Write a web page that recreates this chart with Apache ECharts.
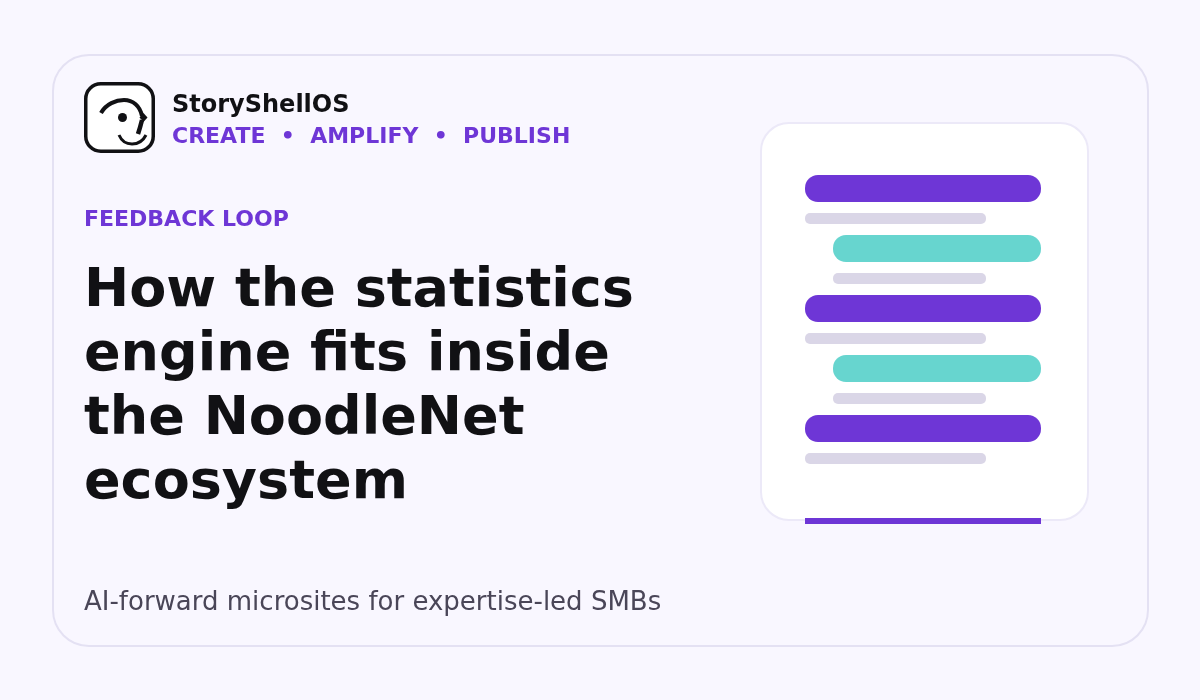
<!DOCTYPE html>
<html>
<head>
<meta charset="utf-8">
<title>How the statistics engine fits inside the NoodleNet ecosystem</title>
<style>
    html, body { margin: 0; padding: 0; background: #f9f7ff; }
    #main { width: 1200px; height: 700px; }
</style>
<script src="https://cdn.jsdelivr.net/npm/echarts@6/dist/echarts.min.js"></script>
</head>
<body>
<div id="main"></div>
<script>
var brandName = 'StoryShellOS';
var brandTagline = 'CREATE  \u2022  AMPLIFY  \u2022  PUBLISH';
var eyebrow = 'FEEDBACK LOOP';
var titleLines = ['How the statistics', 'engine fits inside', 'the NoodleNet', 'ecosystem'];
var footerText = 'AI-forward microsites for expertise-led SMBs';

// rows of the diagram, top to bottom
var rowNames = ['r1', 'r1 note', 'r2', 'r2 note', 'r3', 'r3 note', 'r4', 'r4 note', 'r5', 'r5 note', 'spacer', 'base'];
var rowKinds = ['primary', 'note', 'accent', 'note', 'primary', 'note', 'accent', 'note', 'primary', 'note', '', 'base'];
var rowStarts = [0, 0, 28, 28, 0, 0, 28, 28, 0, 0, 0, 0];
var rowEnds = [236, 181, 236, 181, 236, 181, 236, 181, 236, 181, 0, 236];

(function () {
    'use strict';

    var purple = '#6e36d6';
    var ink = '#111114';
    var kindStyle = {
        primary: { color: purple, height: 27, radius: 13, shift: 0 },
        accent: { color: '#67d5cf', height: 27, radius: 13, shift: 0 },
        note: { color: '#dad6e7', height: 11, radius: 5, shift: 0 },
        base: { color: purple, height: 6, radius: 0, shift: 2.5 }
    };

    var myChart = echarts.init(document.getElementById('main'));

    function label(x, y, text, size, weight, color) {
        return {
            type: 'text',
            z: 1,
            style: {
                x: x,
                y: y,
                text: text,
                fill: color,
                font: weight + ' ' + size + 'px "DejaVu Sans"',
                textVerticalAlign: 'middle'
            }
        };
    }

    function curve(x1, y1, cpx1, cpy1, cpx2, cpy2, x2, y2, width) {
        return {
            type: 'bezierCurve',
            z: 1,
            shape: { x1: x1, y1: y1, cpx1: cpx1, cpy1: cpy1, cpx2: cpx2, cpy2: cpy2, x2: x2, y2: y2 },
            style: { fill: 'none', stroke: ink, lineWidth: width }
        };
    }

    var graphics = [
        {
            type: 'rect',
            z: 0,
            shape: { x: 53, y: 55, width: 1095, height: 591, r: 36 },
            style: { fill: '#f9f7ff', stroke: '#e4e1f3', lineWidth: 2 }
        },
        {
            type: 'rect',
            z: 0,
            shape: { x: 761, y: 123, width: 327, height: 397, r: 28 },
            style: { fill: '#ffffff', stroke: '#ece9f8', lineWidth: 2 }
        },
        // logo
        {
            type: 'rect',
            z: 1,
            shape: { x: 85.75, y: 83.75, width: 67.5, height: 67.5, r: 15 },
            style: { fill: '#ffffff', stroke: ink, lineWidth: 3.5 }
        },
        {
            type: 'circle',
            z: 1,
            shape: { cx: 122.5, cy: 117.5, r: 4.5 },
            style: { fill: ink }
        },
        curve(101, 113, 106, 104, 116, 100, 124, 100, 4),
        curve(124, 100, 133, 100, 140, 106, 142, 116, 4),
        curve(142, 120, 141, 124, 140, 128, 138, 134, 4.5),
        {
            type: 'polygon',
            z: 1,
            shape: { points: [[143.5, 113], [147.5, 117.5], [143.5, 122], [139.5, 117.5]] },
            style: { fill: ink }
        },
        curve(119, 135, 122, 142, 127, 144, 132, 144, 3),
        curve(132, 144, 138, 144, 143, 141, 146, 135, 3),
        label(172, 106, brandName, 24, 'bold', ink),
        label(172, 137, brandTagline, 22, 'bold', purple),
        label(84, 220, eyebrow, 22, 'bold', purple),
        label(84, 603, footerText, 26, 'normal', '#4a4658')
    ];
    titleLines.forEach(function (line, i) {
        graphics.push(label(84, 292 + i * 64, line, 54, 'bold', ink));
    });

    var rows = rowNames.map(function (name, i) {
        return [rowStarts[i], rowEnds[i], i];
    });

    var option = {
        animation: false,
        backgroundColor: '#f9f7ff',
        graphic: { elements: graphics },
        grid: { left: 805, top: 173.5, width: 236, height: 360 },
        xAxis: { type: 'value', min: 0, max: 236, show: false },
        yAxis: { type: 'category', data: rowNames, inverse: true, show: false },
        series: [
            {
                type: 'custom',
                z: 5,
                clip: false,
                data: rows,
                renderItem: function (params, api) {
                    var kind = kindStyle[rowKinds[params.dataIndex]];
                    if (!kind) {
                        return null;
                    }
                    var from = api.coord([api.value(0), api.value(2)]);
                    var to = api.coord([api.value(1), api.value(2)]);
                    return {
                        type: 'rect',
                        shape: {
                            x: from[0],
                            y: from[1] - kind.height / 2 + kind.shift,
                            width: to[0] - from[0],
                            height: kind.height,
                            r: kind.radius
                        },
                        style: { fill: kind.color }
                    };
                }
            }
        ]
    };
    myChart.setOption(option);
}());
</script>
</body>
</html>
